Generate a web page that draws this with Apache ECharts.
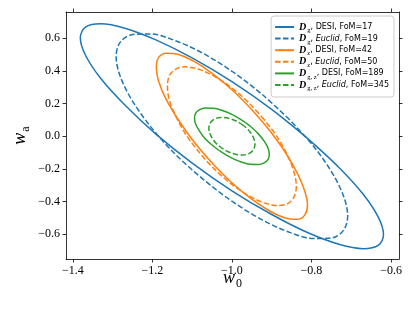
<!DOCTYPE html>
<html><head><meta charset="utf-8">
<script src="https://cdn.jsdelivr.net/npm/echarts@6/dist/echarts.min.js"></script>
<style>html,body{margin:0;padding:0;background:#fff}#c{width:415px;height:311px}</style>
</head><body><div id="c"></div>
<script>
// Tick values
const xTicks = [-1.4, -1.2, -1.0, -0.8, -0.6];
const yTicks = [-0.6, -0.4, -0.2, 0.0, 0.2, 0.4, 0.6];

// Contour points (w0, wa) (closed loops)
const dgDesi = [[-0.810,-0.013],[-0.901,0.166],[-1.000,0.334],[-1.099,0.478],[-1.191,0.590],[-1.269,0.662],[-1.330,0.689],[-1.368,0.669],[-1.381,0.603],[-1.368,0.496],[-1.330,0.355],[-1.269,0.191],[-1.191,0.013],[-1.099,-0.166],[-1.000,-0.334],[-0.901,-0.478],[-0.810,-0.590],[-0.731,-0.662],[-0.670,-0.689],[-0.632,-0.669],[-0.619,-0.603],[-0.632,-0.496],[-0.670,-0.355],[-0.731,-0.191],[-0.810,-0.013]];
const dgEuclid = [[-0.855,0.101],[-0.925,0.258],[-1.000,0.398],[-1.075,0.511],[-1.146,0.589],[-1.206,0.627],[-1.252,0.622],[-1.281,0.575],[-1.291,0.488],[-1.281,0.369],[-1.252,0.224],[-1.206,0.064],[-1.146,-0.101],[-1.075,-0.258],[-1.000,-0.398],[-0.925,-0.511],[-0.855,-0.589],[-0.794,-0.627],[-0.748,-0.622],[-0.719,-0.575],[-0.709,-0.488],[-0.719,-0.369],[-0.748,-0.224],[-0.794,-0.064],[-0.855,0.101]];
const dzDesi = [[-0.905,0.035],[-0.951,0.165],[-1.000,0.285],[-1.049,0.384],[-1.095,0.458],[-1.134,0.501],[-1.165,0.509],[-1.184,0.483],[-1.190,0.423],[-1.184,0.335],[-1.165,0.224],[-1.134,0.098],[-1.095,-0.035],[-1.049,-0.165],[-1.000,-0.285],[-0.951,-0.384],[-0.905,-0.458],[-0.866,-0.501],[-0.836,-0.509],[-0.817,-0.483],[-0.810,-0.423],[-0.817,-0.335],[-0.836,-0.224],[-0.866,-0.098],[-0.905,0.035]];
const dzEuclid = [[-0.919,0.102],[-0.958,0.206],[-1.000,0.295],[-1.042,0.364],[-1.081,0.408],[-1.115,0.425],[-1.140,0.413],[-1.157,0.372],[-1.162,0.306],[-1.157,0.219],[-1.140,0.118],[-1.115,0.008],[-1.081,-0.102],[-1.042,-0.206],[-1.000,-0.295],[-0.958,-0.364],[-0.919,-0.408],[-0.885,-0.425],[-0.860,-0.413],[-0.844,-0.372],[-0.838,-0.306],[-0.844,-0.219],[-0.860,-0.118],[-0.885,-0.008],[-0.919,0.102]];
const dgzDesi = [[-0.953,0.060],[-0.976,0.100],[-1.000,0.134],[-1.024,0.158],[-1.047,0.172],[-1.067,0.173],[-1.081,0.163],[-1.091,0.142],[-1.094,0.111],[-1.091,0.073],[-1.081,0.030],[-1.067,-0.016],[-1.047,-0.060],[-1.024,-0.100],[-1.000,-0.134],[-0.976,-0.158],[-0.953,-0.172],[-0.934,-0.173],[-0.919,-0.163],[-0.909,-0.142],[-0.906,-0.111],[-0.909,-0.073],[-0.919,-0.030],[-0.934,0.016],[-0.953,0.060]];
const dgzEuclid = [[-0.971,0.066],[-0.985,0.088],[-1.000,0.104],[-1.015,0.113],[-1.029,0.115],[-1.041,0.108],[-1.050,0.094],[-1.056,0.074],[-1.058,0.048],[-1.056,0.020],[-1.050,-0.010],[-1.041,-0.040],[-1.029,-0.066],[-1.015,-0.088],[-1.000,-0.104],[-0.985,-0.113],[-0.971,-0.115],[-0.959,-0.108],[-0.950,-0.094],[-0.944,-0.074],[-0.942,-0.048],[-0.944,-0.020],[-0.950,0.010],[-0.959,0.040],[-0.971,0.066]];

// Legend entries
const seriesNames = ['Dg DESI', 'Dg Euclid', 'Dz DESI', 'Dz Euclid', 'Dgz DESI', 'Dgz Euclid'];
const subscripts = ['g', 'g', 'z', 'z', 'g, z', 'g, z'];
const surveys = ['DESI', 'Euclid', 'DESI', 'Euclid', 'DESI', 'Euclid'];
const foms = [17, 19, 42, 50, 189, 345];
const seriesData = [dgDesi, dgEuclid, dzDesi, dzEuclid, dgzDesi, dgzEuclid];
const colors = ['#1f77b4', '#1f77b4', '#ff7f0e', '#ff7f0e', '#2ca02c', '#2ca02c'];
const dashed = [false, true, false, true, false, true];

const fmt = v => (v < 0 ? '\u2212' : '') + Math.abs(v).toFixed(1);
const axisCol = '#000';
const serif = 'Liberation Serif';

const chart = echarts.init(document.getElementById('c'), null, {renderer: 'canvas'});

const nameRich = {
  i: {fontFamily: serif, fontStyle: 'italic', fontSize: 18, color: '#000', lineHeight: 20},
  s: {fontFamily: serif, fontSize: 12, color: '#000', lineHeight: 12, verticalAlign: 'bottom', padding: [0, 0, -2, 1]}
};

chart.setOption({
  animation: false,
  grid: {left: 66, right: 16, top: 12, bottom: 52},
  xAxis: [{
    type: 'value', min: -1.417, max: -0.58, position: 'bottom',
    axisLine: {show: true, onZero: false, lineStyle: {color: axisCol, width: 0.8}},
    axisTick: {show: true, inside: false, length: 3.5, customValues: xTicks, lineStyle: {color: axisCol, width: 0.8}},
    axisLabel: {customValues: xTicks, formatter: fmt, fontFamily: serif, fontSize: 12, color: '#000', margin: 6},
    splitLine: {show: false},
    name: '{i|w}{s|0}', nameLocation: 'middle', nameGap: 9, nameMoveOverlap: false,
    nameTextStyle: {rich: nameRich}
  }, {
    type: 'value', min: -1.417, max: -0.58, position: 'top',
    axisLine: {show: true, onZero: false, lineStyle: {color: axisCol, width: 0.8}},
    axisTick: {show: true, inside: false, length: 3.5, customValues: xTicks, lineStyle: {color: axisCol, width: 0.8}},
    axisLabel: {show: false}, splitLine: {show: false}
  }],
  yAxis: [{
    type: 'value', min: -0.752, max: 0.761, position: 'left',
    axisLine: {show: true, onZero: false, lineStyle: {color: axisCol, width: 0.8}},
    axisTick: {show: true, inside: false, length: 3.5, customValues: yTicks, lineStyle: {color: axisCol, width: 0.8}},
    axisLabel: {customValues: yTicks, formatter: fmt, fontFamily: serif, fontSize: 12, color: '#000', margin: 6},
    splitLine: {show: false},
    name: '{i|w}{s|a}', nameLocation: 'middle', nameGap: 36, nameMoveOverlap: false,
    nameTextStyle: {rich: nameRich}
  }, {
    type: 'value', min: -0.752, max: 0.761, position: 'right',
    axisLine: {show: true, onZero: false, lineStyle: {color: axisCol, width: 0.8}},
    axisTick: {show: true, inside: false, length: 3.5, customValues: yTicks, lineStyle: {color: axisCol, width: 0.8}},
    axisLabel: {show: false}, splitLine: {show: false}
  }],
  legend: {
    orient: 'vertical', right: 21, top: 16,
    itemWidth: 19, itemHeight: 8, itemGap: -0.4,
    padding: [6, 5, 5, 3],
    backgroundColor: 'rgba(255,255,255,0.8)', borderColor: '#cccccc', borderWidth: 1, borderRadius: 3,
    itemStyle: {opacity: 0},
    data: seriesNames,
    formatter: name => {
      const i = seriesNames.indexOf(name);
      const sv = surveys[i] === 'Euclid' ? '{it|Euclid}' : '{t|DESI}';
      return '{D|D}{sub|' + subscripts[i] + '}{t|, }' + sv + '{t|, FoM=' + foms[i] + '}';
    },
    textStyle: {color: '#000', fontFamily: 'DejaVu Sans', fontSize: 8, lineHeight: 10, rich: {
      D: {fontFamily: serif, fontWeight: 'bold', fontStyle: 'italic', fontSize: 10, color: '#000', lineHeight: 10},
      sub: {fontFamily: serif, fontSize: 6.5, color: '#000', lineHeight: 7, verticalAlign: 'bottom', padding: [0, 0, -2, 1]},
      t: {fontFamily: 'DejaVu Sans', fontSize: 8, color: '#000', lineHeight: 10},
      it: {fontFamily: 'DejaVu Sans', fontStyle: 'italic', fontSize: 8, color: '#000', lineHeight: 10}
    }}
  },
  series: seriesNames.map((n, i) => ({
    name: n, type: 'line', data: seriesData[i], xAxisIndex: 0, yAxisIndex: 0,
    symbol: 'none', showSymbol: false, smooth: 0.33, clip: true,
    itemStyle: {color: colors[i]},
    lineStyle: {color: colors[i], width: 1.5, type: dashed[i] ? [5.5, 2.4] : 'solid'},
    z: 2 + i
  }))
});
</script></body></html>
